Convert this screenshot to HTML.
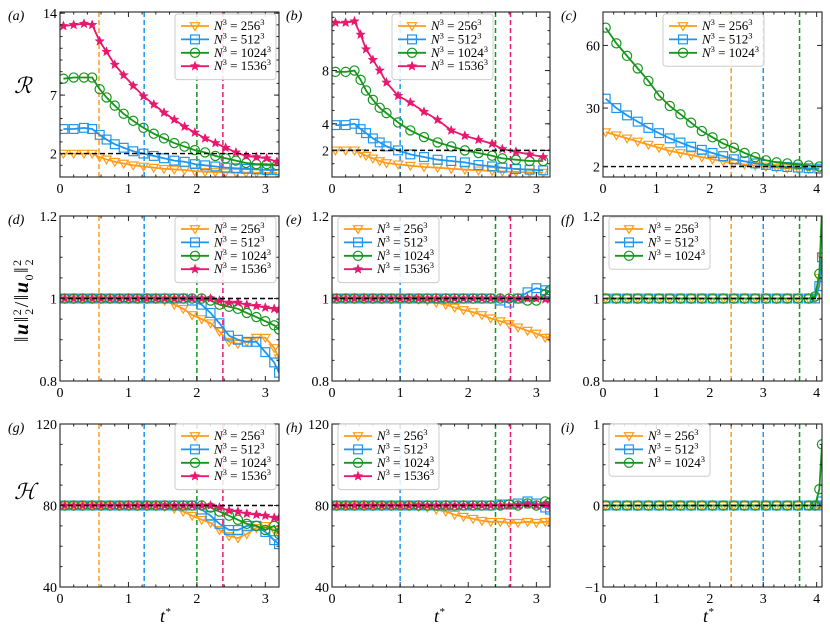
<!DOCTYPE html>
<html><head><meta charset="utf-8">
<style>
html,body{margin:0;padding:0;background:#fff;}
svg{display:block;font-family:"Liberation Serif","DejaVu Serif",serif;}
</style></head>
<body>
<svg id="fig" width="830" height="633" viewBox="0 0 830 633" xmlns="http://www.w3.org/2000/svg"></svg>
<script>
// ---- data ----
const tA = [0.05,0.2,0.35,0.47,0.58,0.68,0.8,0.93,1.07,1.22,1.37,1.52,1.67,1.82,1.97,2.12,2.27,2.42,2.57,2.72,2.87,3.02,3.17];
const aOrange = [2.0,2.0,2.0,2.0,1.7,1.5,1.3,1.15,1.0,0.9,0.8,0.7,0.65,0.6,0.5,0.45,0.42,0.4,0.38,0.37,0.36,0.35,0.35];
const aBlue = [4.1,4.1,4.2,4.1,3.6,3.2,2.8,2.5,2.2,2.0,1.8,1.6,1.4,1.3,1.1,1.0,0.9,0.8,0.75,0.7,0.65,0.6,0.6];
const aGreen = [8.4,8.5,8.5,8.5,7.5,6.8,6.1,5.4,4.8,4.2,3.7,3.3,2.9,2.6,2.3,2.1,1.8,1.6,1.4,1.2,1.1,1.1,1.0];
const aMagenta = [12.9,13.0,13.1,13.0,11.6,10.7,9.6,8.7,7.8,6.9,6.2,5.5,4.9,4.3,3.8,3.3,2.9,2.5,2.1,1.8,1.7,1.6,1.3];

const tB = [0.05,0.2,0.33,0.42,0.5,0.6,0.7,0.8,0.97,1.15,1.35,1.55,1.75,1.95,2.15,2.35,2.5,2.7,2.9,3.1];
const bOrange = [2.0,2.0,2.0,1.8,1.6,1.4,1.2,1.05,0.95,0.85,0.75,0.7,0.62,0.56,0.5,0.46,0.42,0.38,0.35,0.33];
const bBlue = [3.9,3.9,4.0,3.6,3.3,2.9,2.6,2.3,2.0,1.7,1.5,1.3,1.2,1.1,0.9,0.8,0.7,0.6,0.55,0.5];
const bGreen = [7.9,7.9,8.0,7.3,6.5,5.8,5.2,4.8,4.1,3.5,3.0,2.6,2.3,2.0,1.8,1.6,1.4,1.3,1.2,1.2];
const bMagenta = [11.6,11.6,11.7,10.7,9.6,8.8,8.0,7.1,6.1,5.6,4.9,4.3,3.5,3.1,2.8,2.5,2.1,1.9,1.7,1.5];

const tC = [0.05,0.25,0.45,0.65,0.85,1.05,1.25,1.45,1.65,1.85,2.05,2.25,2.45,2.65,2.85,3.05,3.25,3.45,3.65,3.85,4.05];
const cOrange = [18.5,17,15.5,14,12.5,11,9.5,8.5,7.5,6.5,5.5,4.5,3.5,3,2.5,2,1.5,1.2,1,0.9,0.8];
const cBlue = [34.5,30,26.5,23.5,20.5,18,15.5,13.5,11.5,10,8.5,7,5.5,4.5,3.5,2.8,2.2,1.8,1.5,1.2,1];
const cGreen = [68.5,61,55,49,43,36,31,27,23,19,16,13,11,8.5,6.5,5,4,3.5,3,2.5,2];

const tD = [0.07,0.2,0.33,0.47,0.6,0.73,0.87,1.0,1.13,1.27,1.4,1.53,1.67,1.8,1.93,2.07,2.2,2.33,2.47,2.6,2.73,2.87,3.0,3.13,3.2];
const dOrange = [1,1,1,1,1,1,1,1,1,1,1,0.995,0.985,0.975,0.96,0.95,0.94,0.92,0.895,0.89,0.895,0.905,0.905,0.88,0.855];
const dBlue = [1,1,1,1,1,1,1,1,1,1,1,1,1,1,0.995,0.985,0.965,0.94,0.91,0.9,0.895,0.895,0.87,0.845,0.82];
const dGreen = [1,1,1,1,1,1,1,1,1,1,1,1,1,1,1,1,0.995,0.985,0.98,0.975,0.965,0.955,0.945,0.935,0.925];
const dMagenta = [1,1,1,1,1,1,1,1,1,1,1,1,1,1,1,1,1,0.995,0.99,0.99,0.985,0.982,0.978,0.975,0.973];

const eOrange = [1,1,1,1,1,1,1,1,1,0.998,0.995,0.99,0.985,0.978,0.972,0.967,0.96,0.952,0.945,0.938,0.93,0.922,0.915,0.905,0.905];
const eBlue = [1,1,1,1,1,1,1,1,1,1,1,1,1,1,1,1,1,1,0.995,0.99,1.0,1.015,1.025,1.02,1.015];
const eGreen = [1,1,1,1,1,1,1,1,1,1,1,1,1,1,1,1,1,1,1,1,1,0.995,0.995,1.01,1.02];
const eMagenta = [1,1,1,1,1,1,1,1,1,1,1,1,1,1,1,1,1,1,1,1,1,1,1,0.998,0.998];

const tF = [0.05,0.25,0.45,0.65,0.85,1.05,1.25,1.45,1.65,1.85,2.05,2.25,2.45,2.65,2.85,3.05,3.25,3.45,3.65,3.85,3.97,4.05,4.1];
const fOrange = [1,1,1,1,1,1,1,1,1,1,1,1,1,1,1,1,1,1,1,1,1,1.05,1.1];
const fBlue = [1,1,1,1,1,1,1,1,1,1,1,1,1,1,1,1,1,1,1,1,1,1.03,1.1];
const fGreen = [1,1,1,1,1,1,1,1,1,1,1,1,1,1,1,1,1,1,1,1,1.005,1.06,1.22];

const gOrange = [80,80,80,80,80,80,80,80,80,80,80,79.5,78.5,77,75,73,71.5,68,65,64,66,69,70,68,66];
const gBlue = [80,80,80,80,80,80,80,80,80,80,80,80,80,80,80,78,75,71,68,68,70,70,67,63,61];
const gGreen = [80,80,80,80,80,80,80,80,80,80,80,80,80,80,80,80,79,77,75,73,71,70,68,70,66];
const gMagenta = [80,80,80,80,80,80,80,80,80,80,80,80,80,80,80,80,80,79,77.5,77,76,75.5,75,74,74];

const hOrange = [80,80,80,80,80,80,80,80,80,79.5,79,78,77,75.5,74.5,73.5,72.5,72,72,71.5,71.5,72,71.5,72,72];
const hBlue = [80,80,80,80,80,80,80,80,80,80,80,80,80,80,80,80,80,80,80.5,80.5,81,82,81,79,78];
const hGreen = [80,80,80,80,80,80,80,80,80,80,80,80,80,80,80,80,80,80,80,80.5,80,81,80,82,81.5];
const hMagenta = [80,80,80,80,80,80,80,80,80,80,80,80,80,80,80,80,80,80,80,80,80,80.5,80,80.5,80];

const iOrange = [0,0,0,0,0,0,0,0,0,0,0,0,0,0,0,0,0,0,0,0,0,0,0];
const iBlue = [0,0,0,0,0,0,0,0,0,0,0,0,0,0,0,0,0,0,0,0,0,0,0.05];
const iGreen = [0,0,0,0,0,0,0,0,0,0,0,0,0,0,0,0,0,0,0,0,0,0.2,0.75];

const xTicks3 = [0,1,2,3];
const xTicks4 = [0,1,2,3,4];
const yTicksA = [2,7,14], yTicksB = [2,4,8], yTicksC = [2,30,60];
const yTicksRow2 = [0.8,1,1.2], yTicksRow3 = [40,80,120], yTicksI = [-1,0,1];
const yTickLabelsRow2 = ["0.8","1","1.2"], yTickLabelsI = ["\u22121","0","1"];
const vlinesA = [0.57,1.23,2.0,2.38], vlinesB = [null,1.0,2.4,2.62], vlinesC = [2.4,3.0,3.68];
const refA = 2, refRow2 = 1, refRow3 = 80, refI = 0;
const resolutions = ["256","512","1024","1536"];

// ---- styles ----
const COLORS = ["#ff9c1a","#1e96f0","#16961c","#e8186e"];
const MARKERS = ["tri","sq","circ","star"];
const NS = "http://www.w3.org/2000/svg";
const svg = document.getElementById('fig');
function mk(tag, attrs, parent){ const e=document.createElementNS(NS,tag); for(const k in attrs) e.setAttribute(k,attrs[k]); (parent||svg).appendChild(e); return e; }

const cols = [[60,279],[332,550],[603,822]];
const rows = [[12,177],[216,381],[424,587]];

function marker(g, type, x, y, col){
  let e;
  if(type==="tri"){ e=mk('path',{d:`M${x-4.6},${y-3.3} L${x+4.6},${y-3.3} L${x},${y+4.4} Z`,fill:'none',stroke:col,'stroke-width':1.2},g); }
  else if(type==="sq"){ e=mk('rect',{x:x-4.4,y:y-4.4,width:8.8,height:8.8,fill:'none',stroke:col,'stroke-width':1.2},g); }
  else if(type==="circ"){ e=mk('circle',{cx:x,cy:y,r:4.6,fill:'none',stroke:col,'stroke-width':1.2},g); }
  else { let p=""; for(let k=0;k<10;k++){ const r=k%2?2.1:4.9; const a=-Math.PI/2+k*Math.PI/5; p+=(k?"L":"M")+(x+r*Math.cos(a)).toFixed(2)+","+(y+r*Math.sin(a)).toFixed(2);} e=mk('path',{d:p+"Z",fill:col,stroke:col,'stroke-width':0.5},g); }
  
  
}

function panel(o){
  const [x0,x1]=cols[o.c], [y0,y1]=rows[o.r];
  const sx=v=>x0+(v-o.xd[0])/(o.xd[1]-o.xd[0])*(x1-x0);
  const sy=v=>y1-(v-o.yd[0])/(o.yd[1]-o.yd[0])*(y1-y0);
  const g=mk('g',{});
  
  
  const cid='clip-'+o.id;
  const cp=mk('clipPath',{id:cid},g); mk('rect',{x:x0,y:y0,width:x1-x0,height:y1-y0},cp);
  const pg=mk('g',{'clip-path':`url(#${cid})`},g);
  o.vl.forEach((v,i)=>{ if(v==null) return; const l=mk('line',{x1:sx(v),x2:sx(v),y1:y0,y2:y1,stroke:COLORS[i],'stroke-width':1.5,'stroke-dasharray':'5,3'},pg);
    
     });
  o.series.forEach((vals,i)=>{
    const sg=mk('g',{},pg);
    
    
    const pts=vals.map((v,j)=>[sx(o.t[j]),sy(v)]);
    let d="M"+pts[0][0]+","+pts[0][1];
    for(let j=1;j<pts.length;j++) d+=" L"+pts[j][0].toFixed(2)+","+pts[j][1].toFixed(2);
    mk('path',{d,fill:'none',stroke:COLORS[i],'stroke-width':1.8},sg);
    pts.forEach(p=>marker(sg,MARKERS[i],p[0],p[1],COLORS[i]));
  });
  const rl=mk('line',{x1:x0,x2:x1,y1:sy(o.ref),y2:sy(o.ref),stroke:'#000','stroke-width':1.4,'stroke-dasharray':'5,3'},pg);
  
  
  mk('rect',{x:x0,y:y0,width:x1-x0,height:y1-y0,fill:'none',stroke:'#222','stroke-width':1.1},g);
  for(let v=0; v<=o.xd[1]+1e-9; v+=0.2){ const X=sx(v); const major=Math.abs(v-Math.round(v))<1e-6;
    const L=major?5:2.5; mk('line',{x1:X,x2:X,y1:y1,y2:y1-L,stroke:'#222'},g); mk('line',{x1:X,x2:X,y1:y0,y2:y0+L,stroke:'#222'},g); }
  o.xt.forEach(v=>{ const t=mk('text',{x:sx(v),y:y1+16,'text-anchor':'middle','font-size':14},g); t.textContent=v;
      });
  o.yt.forEach((v,i)=>{ const Y=sy(v); mk('line',{x1:x0,x2:x0+5,y1:Y,y2:Y,stroke:'#222'},g); mk('line',{x1:x1,x2:x1-5,y1:Y,y2:Y,stroke:'#222'},g);
    const t=mk('text',{x:x0-3,y:Y+5,'text-anchor':'end','font-size':14},g); t.textContent=o.ytl?o.ytl[i]:v;
      });
  const ys=o.ymin; if(ys){ for(let v=o.yd[0]; v<=o.yd[1]; v+=ys){ const Y=sy(v); if(Y<y0||Y>y1) continue; mk('line',{x1:x0,x2:x0+2.5,y1:Y,y2:Y,stroke:'#222'},g); mk('line',{x1:x1,x2:x1-2.5,y1:Y,y2:Y,stroke:'#222'},g);} }
  const lt=mk('text',{x:o.lx,y:y0+8,'font-size':14,'font-style':'italic'},g); lt.textContent='('+o.id+')';
   
  const n=o.series.length, lx=o.leg[0], ly=o.leg[1], lh=13.4*n+12;
  const lg=mk('g',{},g);
  
  
  mk('rect',{x:lx,y:ly,width:101,height:lh,rx:3,fill:'#fff','fill-opacity':0.85,stroke:'#ccc'},lg);
  for(let i=0;i<n;i++){ const Y=ly+12+i*13.4;
    const eg=mk('g',{},lg);
    
    
    mk('line',{x1:lx+6,x2:lx+34,y1:Y,y2:Y,stroke:COLORS[i],'stroke-width':1.8},eg);
    marker(eg,MARKERS[i],lx+20,Y,COLORS[i]);
    const t=mk('text',{x:lx+39,y:Y+4,'font-size':13},eg);
    t.innerHTML=`<tspan font-style="italic">N</tspan><tspan dy="-5" font-size="8.5">3</tspan><tspan dy="5"> = ${resolutions[i]}</tspan><tspan dy="-5" font-size="8.5">3</tspan>`;
  }
}

panel({id:'a',c:0,r:0,xd:[0,3.2],yd:[0,14.1],t:tA,series:[aOrange,aBlue,aGreen,aMagenta],vl:vlinesA,ref:refA,xt:xTicks3,yt:yTicksA,lx:8,leg:[175,14],ymin:1});
panel({id:'b',c:1,r:0,xd:[0,3.2],yd:[0,12.4],t:tB,series:[bOrange,bBlue,bGreen,bMagenta],vl:vlinesB,ref:refA,xt:xTicks3,yt:yTicksB,lx:286,leg:[392,14],ymin:1});
panel({id:'c',c:2,r:0,xd:[0,4.1],yd:[-3,76],t:tC,series:[cOrange,cBlue,cGreen],vl:vlinesC,ref:refA,xt:xTicks4,yt:yTicksC,lx:561,leg:[663,14],ymin:null});
panel({id:'d',c:0,r:1,xd:[0,3.2],yd:[0.8,1.2],t:tD,series:[dOrange,dBlue,dGreen,dMagenta],vl:vlinesA,ref:refRow2,xt:xTicks3,yt:yTicksRow2,ytl:yTickLabelsRow2,lx:8,leg:[175,217],ymin:0.05});
panel({id:'e',c:1,r:1,xd:[0,3.2],yd:[0.8,1.2],t:tD,series:[eOrange,eBlue,eGreen,eMagenta],vl:vlinesB,ref:refRow2,xt:xTicks3,yt:yTicksRow2,ytl:yTickLabelsRow2,lx:286,leg:[338,217],ymin:0.05});
panel({id:'f',c:2,r:1,xd:[0,4.1],yd:[0.8,1.2],t:tF,series:[fOrange,fBlue,fGreen],vl:vlinesC,ref:refRow2,xt:xTicks4,yt:yTicksRow2,ytl:yTickLabelsRow2,lx:561,leg:[609,217],ymin:0.05});
panel({id:'g',c:0,r:2,xd:[0,3.2],yd:[40,120],t:tD,series:[gOrange,gBlue,gGreen,gMagenta],vl:vlinesA,ref:refRow3,xt:xTicks3,yt:yTicksRow3,lx:8,leg:[175,424],ymin:10});
panel({id:'h',c:1,r:2,xd:[0,3.2],yd:[40,120],t:tD,series:[hOrange,hBlue,hGreen,hMagenta],vl:vlinesB,ref:refRow3,xt:xTicks3,yt:yTicksRow3,lx:286,leg:[338,424],ymin:10});
panel({id:'i',c:2,r:2,xd:[0,4.1],yd:[-1,1],t:tF,series:[iOrange,iBlue,iGreen],vl:vlinesC,ref:refI,xt:xTicks4,yt:yTicksI,ytl:yTickLabelsI,lx:561,leg:[609,424],ymin:0.25});

// energy y-axis title (rotated SVG text)
const et = mk('text',{x:0,y:0,'font-size':20,'letter-spacing':1.5,'text-anchor':'middle',transform:'translate(28,300) rotate(-90)'});


et.innerHTML = '‖<tspan font-weight="bold" font-style="italic">u</tspan>‖<tspan dy="-7" font-size="12">2</tspan><tspan dy="12" dx="-7" font-size="12">2</tspan><tspan dy="-5">/‖</tspan><tspan font-weight="bold" font-style="italic">u</tspan><tspan dy="5" font-size="12">0</tspan><tspan dy="-5">‖</tspan><tspan dy="-7" font-size="12">2</tspan><tspan dy="12" dx="-7" font-size="12">2</tspan>';
</script>
<div style="position:absolute;left:0;top:0;width:830px;height:633px;pointer-events:none;font-family:'Liberation Serif',serif;">
  <div style="position:absolute;left:14px;top:74px;font-size:22px;font-style:italic;font-family:'DejaVu Serif',serif;">ℛ</div>
  <div style="position:absolute;left:14px;top:480px;font-size:22px;font-style:italic;font-family:'DejaVu Serif',serif;">ℋ</div>
  <div style="position:absolute;left:160px;top:606px;font-size:18px;font-style:italic;">t<sup style="font-size:11px">*</sup></div>
  <div style="position:absolute;left:434px;top:606px;font-size:18px;font-style:italic;">t<sup style="font-size:11px">*</sup></div>
  <div style="position:absolute;left:703px;top:606px;font-size:18px;font-style:italic;">t<sup style="font-size:11px">*</sup></div>
</div>
</body></html>
